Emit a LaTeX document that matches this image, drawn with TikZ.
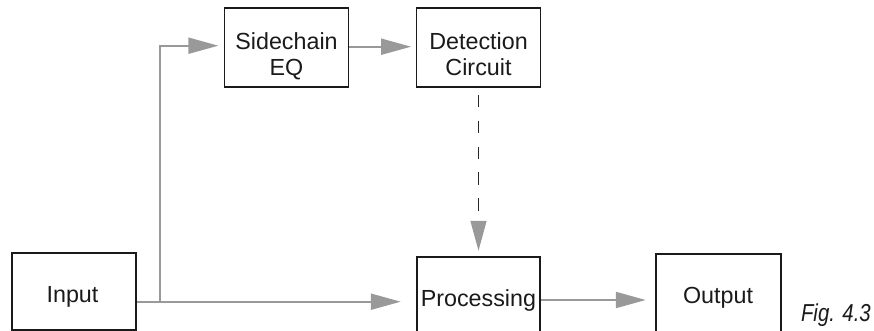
\documentclass[tikz,border=0pt]{standalone}
\usepackage{fontspec}
\usetikzlibrary{arrows.meta}
\newfontfamily\labfont{Liberation Sans}
\definecolor{boxc}{HTML}{1A1A1A}
\definecolor{linec}{HTML}{999999}
\definecolor{dashc}{HTML}{262626}
\definecolor{txtc}{HTML}{1A1A1A}
\tikzset{
  box/.style={draw=boxc, line width=1.9pt, minimum width=124pt, inner sep=0pt},
  lbl/.style={font=\labfont\fontsize{23.3pt}{26.7pt}\selectfont, text=txtc, anchor=base, inner sep=0pt},
  figlbl/.style={font=\labfont\fontsize{24.5pt}{28pt}\selectfont\itshape, text=txtc, anchor=base, inner sep=0pt},
  flow/.style={draw=linec, line width=2pt},
  flowarr/.style={flow, -{Triangle[length=30pt,width=16pt]}},
  dashline/.style={draw=dashc, line width=1.5pt, dash pattern=on 12.5pt off 13.3pt,
    -{Triangle[length=30pt,width=16pt,color=linec]}}
}
\begin{document}
\begin{tikzpicture}[x=1pt,y=-1pt]
\useasboundingbox (0,0) rectangle (874,331);
\clip (0,0) rectangle (874,331);
% boxes
\node[box, minimum height=76.7pt] (in) at (74,291.7) {};
\node[box, minimum height=79pt] (sc) at (286.5,47.8) {};
\node[box, minimum height=79pt] (det) at (478.5,47.8) {};
\node[box, minimum height=77.4pt, minimum width=123.6pt] (proc) at (478.5,296) {};
\node[box, minimum height=82pt, minimum width=124.6pt] (out) at (718.5,295) {};
% labels
\node[lbl] (inT) at (72.5,302.3) {Input};
\node[lbl] (scT1) at (286.5,49.3) {Sidechain};
\node[lbl] (scT2) at (286.5,76) {EQ};
\node[lbl] (detT1) at (478.5,49.3) {Detection};
\node[lbl] (detT2) at (478.5,76) {Circuit};
\node[lbl] (procT) at (478.4,306) {Processing};
\node[lbl] (outT) at (718,303.3) {Output};
\node[figlbl] (fig) at (835.9,321.7) {\scalebox{0.83}[1]{Fig. 4.3}};
% connectors
\coordinate (j) at (160,301.7);
\draw[flow] (in.east |- j) -- (j);
\draw[flowarr, shorten >=15pt] (j) -- (proc.west |- j);
\draw[flowarr, shorten >=5.2pt] (j) |- ([yshift=2.1pt]sc.west);
\draw[flowarr, shorten >=4.5pt] ([yshift=1.1pt]sc.east) -- ([yshift=1.1pt]det.west);
\draw[flowarr, shorten >=9.5pt] ([yshift=-4pt]proc.east) -- ([yshift=-5pt]out.west);
\draw[dashline, shorten <=6.7pt, shorten >=5.6pt] (det.south) -- (proc.north);
\end{tikzpicture}
\end{document}
